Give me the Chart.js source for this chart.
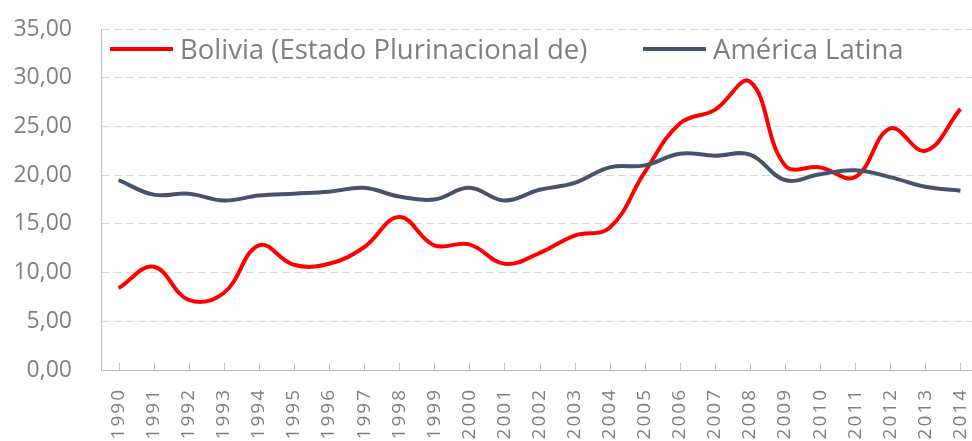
<!DOCTYPE html>
<html>
<head>
<meta charset="utf-8">
<script src="https://cdn.jsdelivr.net/npm/chart.js@4/dist/chart.umd.min.js"></script>
<style>
    html, body { margin: 0; padding: 0; background: #fff; overflow: hidden; }
    #wrap { position: relative; width: 978px; height: 441px; }
    .leg { position: absolute; top: 30px; display: flex; align-items: center; font-family: "Open Sans", sans-serif; font-size: 27.5px; color: #7f7f7f; white-space: nowrap; }
    .leg span.ln { display: inline-block; width: 63px; height: 4px; margin-right: 7px; }
</style>
</head>
<body>
<div id="wrap">
    <canvas id="chart" width="978" height="441"></canvas>
    <div id="legend"></div>
</div>
<script>
// 年份
const years = ['1990', '1991', '1992', '1993', '1994', '1995', '1996', '1997', '1998', '1999',
    '2000', '2001', '2002', '2003', '2004', '2005', '2006', '2007', '2008', '2009',
    '2010', '2011', '2012', '2013', '2014'];

// 数据
const seriesNames = ['Bolivia (Estado Plurinacional de)', 'América Latina'];
const bolivia = [8.4, 10.6, 7.2, 7.9, 12.8, 10.8, 10.9, 12.6, 15.7, 12.8,
    12.9, 10.9, 12.0, 13.8, 14.6, 20.3, 25.3, 26.7, 29.6, 21.0,
    20.8, 19.8, 24.8, 22.5, 26.8];
const americaLatina = [19.5, 18.0, 18.1, 17.4, 17.9, 18.1, 18.3, 18.7, 17.8, 17.5,
    18.7, 17.4, 18.5, 19.2, 20.8, 21.0, 22.2, 22.0, 22.1, 19.5,
    20.1, 20.5, 19.8, 18.8, 18.4];
const yTicks = [0, 5, 10, 15, 20, 25, 30, 35];
const colors = ['#ff0000', '#44546a'];

// 图例
const legendLeft = [110, 643];
const legendEl = document.getElementById('legend');
seriesNames.forEach((name, i) => {
    const item = document.createElement('div');
    item.className = 'leg';
    item.style.left = legendLeft[i] + 'px';
    item.innerHTML = '<span class="ln" style="background:' + colors[i] + '"></span>' + name;
    legendEl.appendChild(item);
});

// x 轴刻度线（向内）+ 标签字间距
const xAxisStyle = {
    id: 'xAxisStyle',
    afterLayout(chart) {
        const x = chart.scales.x;
        if (x._spaced) return;
        const orig = x.drawLabels;
        x.drawLabels = function (area) {
            const c = this.ctx;
            c.save();
            c.letterSpacing = '2px';
            orig.call(this, area);
            c.restore();
        };
        x._spaced = true;
    },
    afterDatasetsDraw(chart) {
        const x = chart.scales.x;
        const ctx = chart.ctx;
        ctx.save();
        ctx.strokeStyle = '#bfbfbf';
        ctx.lineWidth = 1;
        x.ticks.forEach((t, i) => {
            const px = Math.round(x.getPixelForTick(i)) + 0.5;
            ctx.beginPath();
            ctx.moveTo(px, x.top - 7);
            ctx.lineTo(px, x.top);
            ctx.stroke();
        });
        ctx.restore();
    }
};

const ctx = document.getElementById('chart').getContext('2d');
const chart = new Chart(ctx, {
    type: 'line',
    data: {
        labels: years,
        datasets: [
            {
                label: seriesNames[0],
                data: bolivia,
                borderColor: colors[0],
                backgroundColor: colors[0],
                borderWidth: 4,
                pointRadius: 0,
                tension: 0.4,
                order: 1
            },
            {
                label: seriesNames[1],
                data: americaLatina,
                borderColor: colors[1],
                backgroundColor: colors[1],
                borderWidth: 4,
                pointRadius: 0,
                tension: 0.4,
                order: 0
            }
        ]
    },
    options: {
        responsive: false,
        animation: false,
        layout: { padding: { top: 29, left: 0, right: 0, bottom: 0 } },
        plugins: {
            legend: { display: false },
            tooltip: { enabled: false }
        },
        scales: {
            x: {
                offset: true,
                grid: { display: true, drawOnChartArea: false, drawTicks: false },
                border: { display: true, color: '#bfbfbf', width: 1 },
                ticks: {
                    autoSkip: false,
                    minRotation: 90,
                    maxRotation: 90,
                    padding: 18,
                    color: '#7f7f7f',
                    font: { family: 'Open Sans', size: 19 }
                },
                afterFit(scale) {
                    scale.height = 71;
                    scale.paddingLeft = 0;
                    scale.paddingRight = 0;
                }
            },
            y: {
                min: 0,
                max: 35,
                afterBuildTicks(scale) {
                    scale.ticks = yTicks.map(v => ({ value: v }));
                },
                grid: { color: '#d9d9d9', lineWidth: 1, drawTicks: false },
                border: { display: true, color: '#bfbfbf', width: 1, dash: [8, 4] },
                ticks: {
                    padding: 29,
                    color: '#7f7f7f',
                    font: { family: 'Open Sans', size: 23 },
                    callback: v => v.toFixed(2).replace('.', ',')
                },
                afterFit(scale) {
                    scale.width = 101;
                    scale.paddingTop = 0;
                    scale.paddingBottom = 0;
                }
            }
        }
    },
    plugins: [xAxisStyle]
});
</script>
</body>
</html>
